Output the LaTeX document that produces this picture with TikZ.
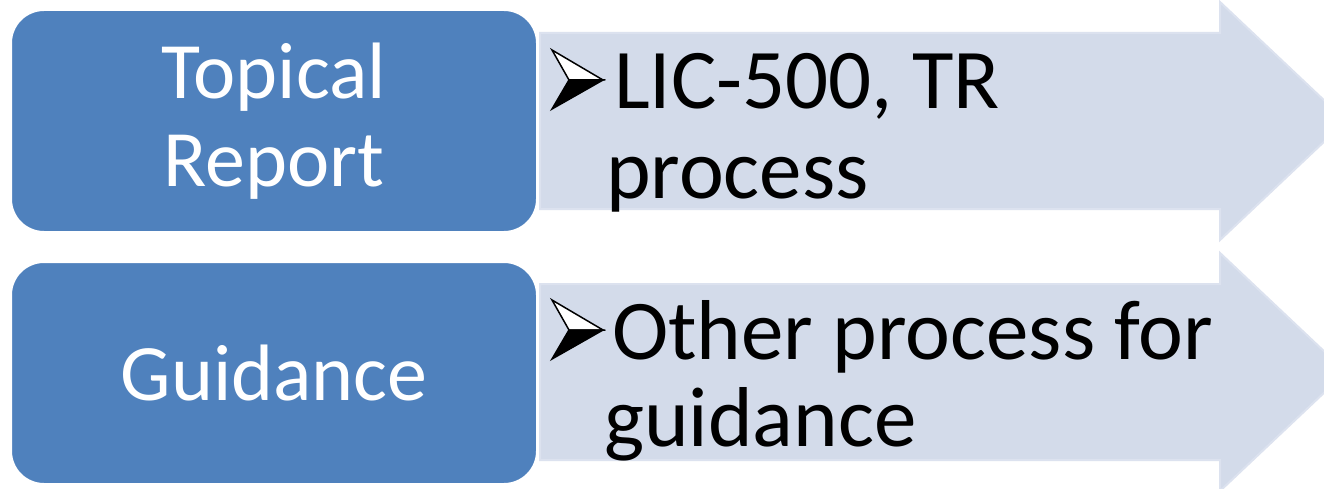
\documentclass[tikz,border=0pt]{standalone}
\usepackage{fontspec}
\setmainfont{Carlito}
\definecolor{boxblue}{RGB}{79,129,189}
\definecolor{arrowfill}{RGB}{211,219,234}
\definecolor{arrowedge}{RGB}{220,226,239}
\tikzset{
  leftbox/.style={draw=white, line width=2pt, fill=boxblue, rounded corners=33pt,
    minimum width=526pt, minimum height=222pt, inner sep=0pt, text=white,
    align=center, font=\fontsize{80}{88}\selectfont},
  bigarrow/.style={fill=arrowfill, draw=arrowedge, line width=2pt},
  itemtext/.style={anchor=base west, inner sep=0pt, text=black, font=\fontsize{85}{88}\selectfont},
  bulletup/.style={fill=white, draw=black, line width=1.5pt, line join=miter},
  bulletdown/.style={fill=black, draw=black, line width=1.5pt, line join=miter}
}
\begin{document}
\begin{tikzpicture}[x=1pt,y=-1pt]
\useasboundingbox (0,0) rectangle (1324,489);
\fill[white] (0,0) rectangle (1324,489);
% arrows
\foreach \dy in {0,251}{
  \draw[bigarrow] (540,33+\dy) -- (1220,33+\dy) -- (1220,2+\dy) -- (1346,121+\dy)
     -- (1220,240+\dy) -- (1220,209+\dy) -- (540,209+\dy) -- cycle;
}
% boxes
\node[leftbox] (b1) at (274,121) {Topical\\Report};
\node[leftbox] (b2) at (274,373) {Guidance};
% bullets
\foreach \dy in {0,250}{
  \draw[bulletup] (552,50+\dy) -- (603,80+\dy) -- (569,80+\dy) -- cycle;
  \draw[bulletdown] (569,80+\dy) -- (603,80+\dy) -- (552,109+\dy) -- cycle;
}
% texts
\node[itemtext] (l1) at (614,109) {LIC-500, TR};
\node[itemtext] (l2) at (606,198) {process};
\node[itemtext] (l3) at (612,359) {Other process for};
\node[itemtext] (l4) at (604,446) {guidance};
\end{tikzpicture}
\end{document}
